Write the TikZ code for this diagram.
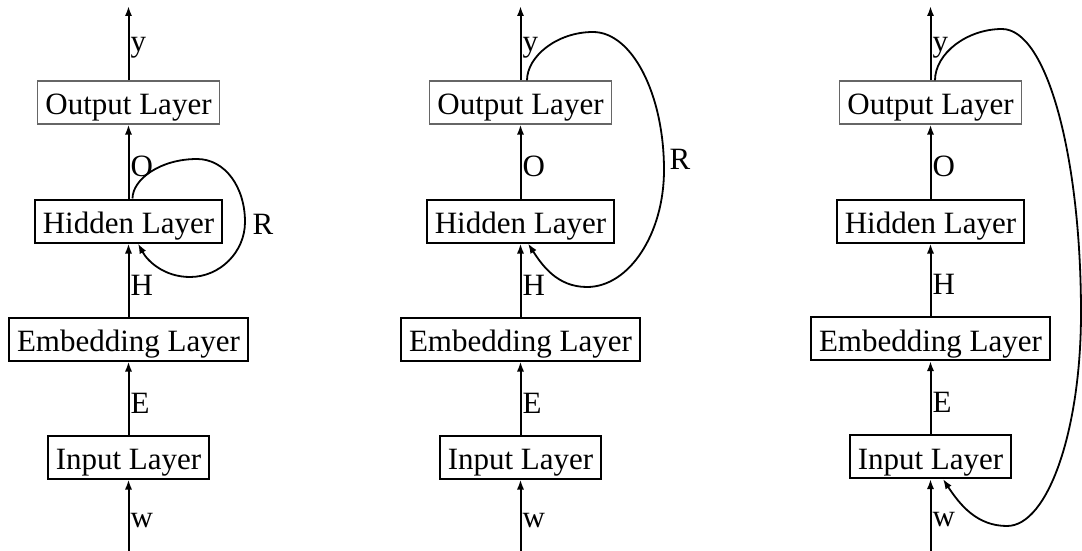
\documentclass[tikz,border=0pt]{standalone}
\usepackage{fontspec}
\setmainfont{Liberation Serif}
\usetikzlibrary{arrows.meta}
\begin{document}
\begin{tikzpicture}[x=0.5pt,y=-0.5pt,
  every node/.style={font=\fontsize{15.5}{18}\selectfont},
  layer/.style={draw=black, line width=1pt, inner xsep=3.9pt, inner ysep=0pt,
    minimum height=21.5pt, text height=14pt, text depth=1.5pt},
  outlayer/.style={layer, draw=black!60, line width=0.6pt},
  flow/.style={line width=1pt, -{Latex[length=5pt,width=3.6pt]}},
  lab/.style={anchor=west, inner sep=0.6pt, yshift=-2.5pt},
  rec/.style={line width=0.9pt, -{Latex[length=5pt,width=3.6pt]}}
]
\useasboundingbox (0,0) rectangle (1082,551);

% ---------- left diagram ----------
\begin{scope}
\node[outlayer] (o1) at (128.5,102.5) {Output Layer};
\node[layer] (h1) at (128.5,221) {Hidden Layer};
\node[layer] (e1) at (128.5,339) {Embedding Layer};
\node[layer] (i1) at (128.5,457) {Input Layer};
\coordinate (b1) at (128.5,551);
\coordinate (t1) at (128.5,6);
\draw[flow] (b1) -- node[lab]{w} (i1);
\draw[flow] (i1) -- node[lab]{E} (e1);
\draw[flow] (e1) -- node[lab]{H} (h1);
\draw[flow] (h1) -- node[lab]{O} (o1);
\draw[flow] (o1) -- node[lab]{y} (t1);
\draw[rec] ([xshift=2pt]h1.north) .. controls +(0,-19) and (160,159) .. (197,159)
  .. controls (225,159) and (245,187) .. (245,222)
  .. controls (245,252) and (220,277) .. (190,277)
  .. controls (165,277) and (148,262) .. ([xshift=4.75pt]h1.south);
\node (r1) at (263,224) {R};
\end{scope}

% ---------- middle diagram ----------
\begin{scope}[shift={(392,0)}]
\node[outlayer] (o2) at (128.5,102.5) {Output Layer};
\node[layer] (h2) at (128.5,221) {Hidden Layer};
\node[layer] (e2) at (128.5,339) {Embedding Layer};
\node[layer] (i2) at (128.5,457) {Input Layer};
\coordinate (b2) at (128.5,551);
\coordinate (t2) at (128.5,6);
\draw[flow] (b2) -- node[lab]{w} (i2);
\draw[flow] (i2) -- node[lab]{E} (e2);
\draw[flow] (e2) -- node[lab]{H} (h2);
\draw[flow] (h2) -- node[lab]{O} (o2);
\draw[flow] (o2) -- node[lab]{y} (t2);
\draw[rec] ([xshift=3.25pt]o2.north) .. controls +(0,-24) and (165,32) .. (201,32)
  .. controls (240,32) and (272,94) .. (272,170)
  .. controls (272,234) and (237,287) .. (195,287)
  .. controls (165,287) and (150,265) .. ([xshift=3.75pt]h2.south);
\node (r2) at (288,159.5) {R};
\end{scope}

% ---------- right diagram ----------
\begin{scope}[shift={(802,0)}]
\node[outlayer] (o3) at (128.5,102.5) {Output Layer};
\node[layer] (h3) at (128.5,221) {Hidden Layer};
\node[layer] (e3) at (128.5,338.5) {Embedding Layer};
\node[layer] (i3) at (128.5,456.5) {Input Layer};
\coordinate (b3) at (128.5,551);
\coordinate (t3) at (128.5,6);
\draw[flow] (b3) -- node[lab]{w} (i3);
\draw[flow] (i3) -- node[lab]{E} (e3);
\draw[flow] (e3) -- node[lab]{H} (h3);
\draw[flow] (h3) -- node[lab]{O} (o3);
\draw[flow] (o3) -- node[lab]{y} (t3);
\draw[rec] ([xshift=2.25pt]o3.north) .. controls +(0,-27) and (165,29) .. (200,29)
  .. controls (245,29) and (279,157) .. (279,313)
  .. controls (279,430) and (246,526) .. (205,526)
  .. controls (175,526) and (158,505) .. ([xshift=6.25pt]i3.south);
\end{scope}
\end{tikzpicture}
\end{document}
